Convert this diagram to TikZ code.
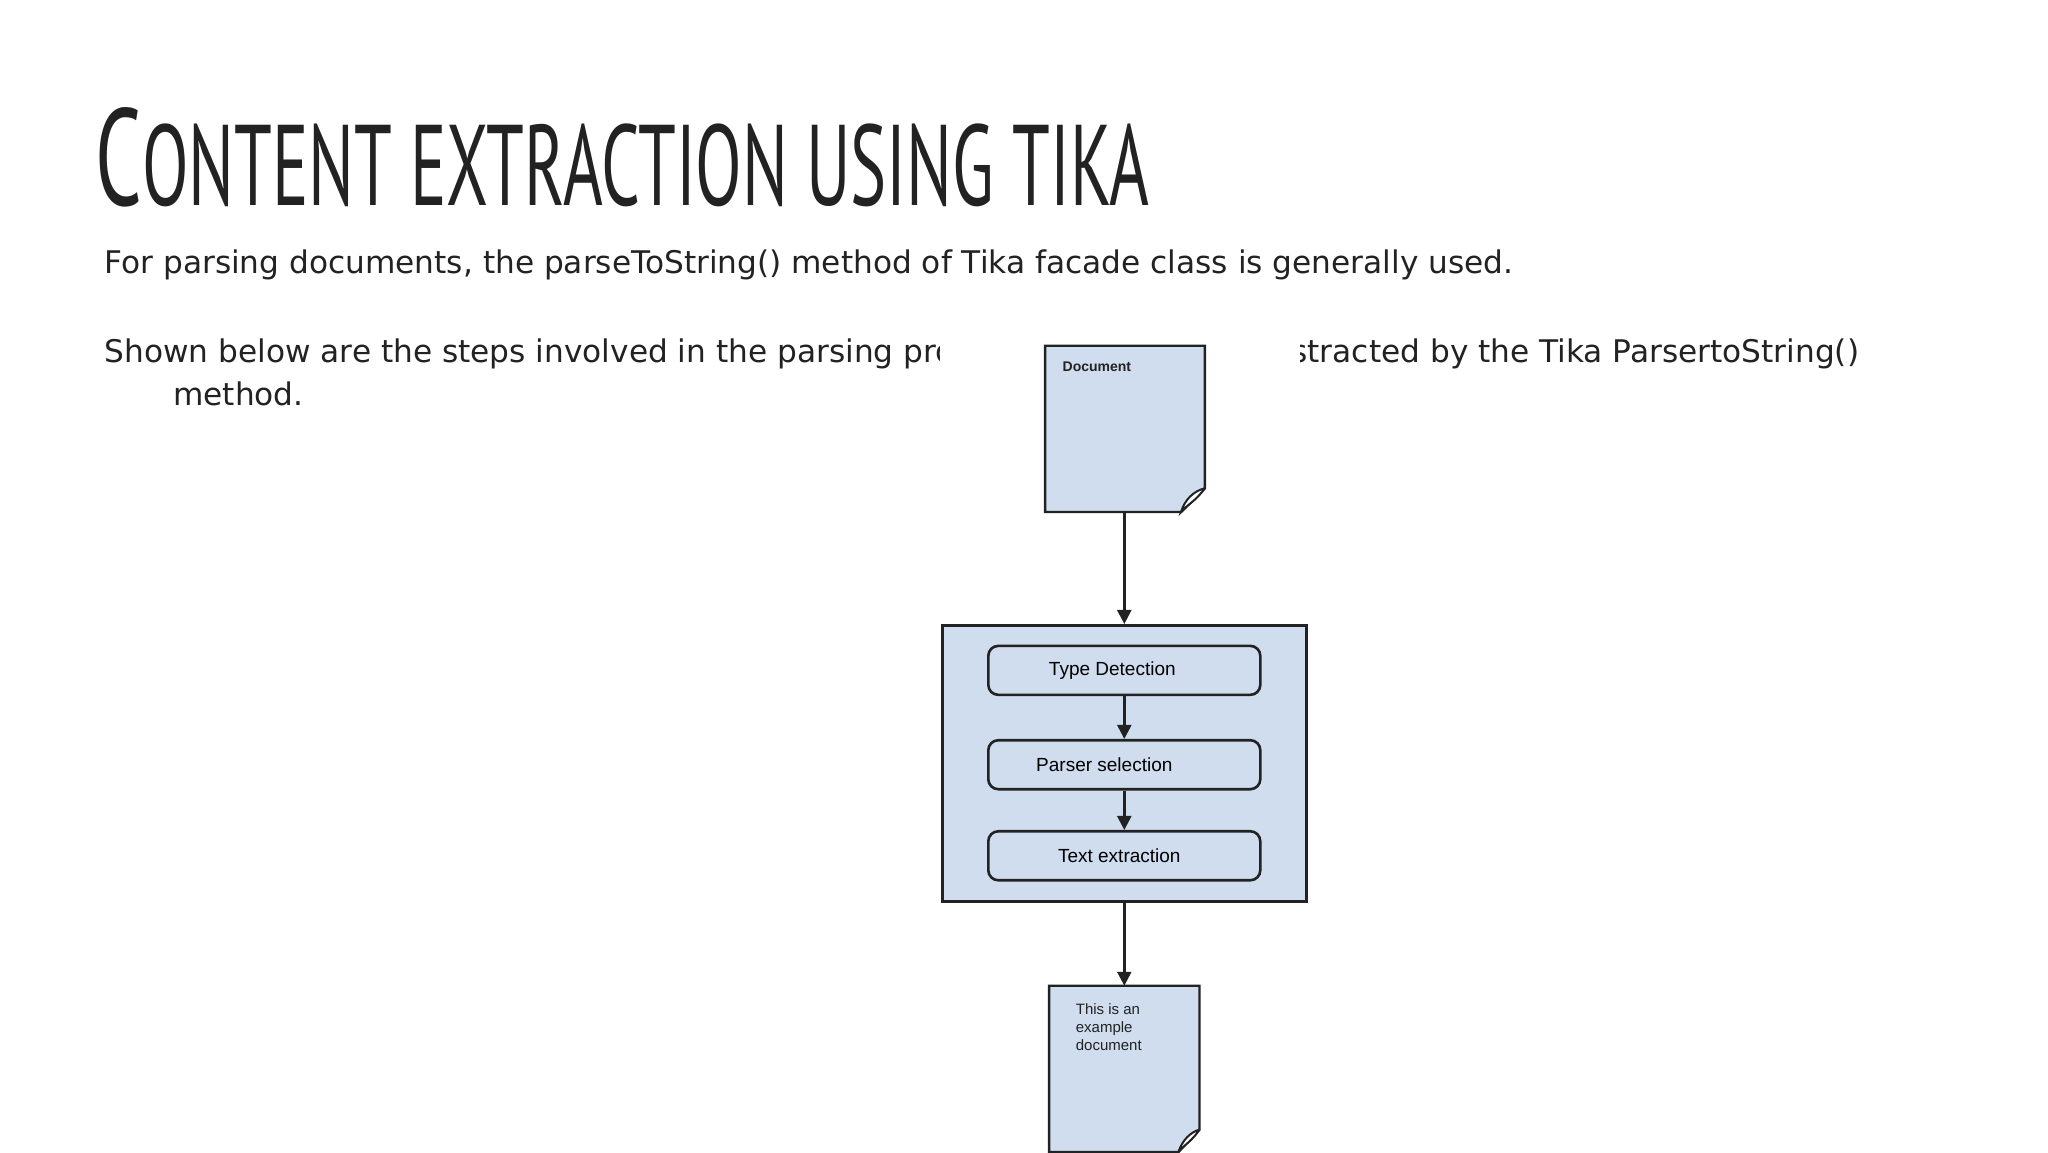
\documentclass[tikz,border=0pt]{standalone}
\usepackage{fontspec}
\setmainfont{DejaVu Sans}
\newfontfamily\ttl{PT Sans}
\newfontfamily\dia{Liberation Sans}
\usetikzlibrary{arrows.meta}
\definecolor{pale}{HTML}{CFDDEE}
\definecolor{ink}{HTML}{222222}
\begin{document}
\begin{tikzpicture}[x=0.6598pt,y=-0.6598pt,
  doc/.style={fill=pale,draw=ink,line width=1.2pt},
  stage/.style={draw=ink,fill=pale,line width=1.3pt,rounded corners=5pt,minimum width=136pt,minimum height=24.5pt,font=\dia\fontsize{9.5}{11}\selectfont},
  arr/.style={-{Triangle[length=7pt,width=7pt]},line width=1.2pt,ink},
  body/.style={anchor=base west,inner sep=0,font=\fontsize{15.6}{18}\selectfont,text=ink}]
\useasboundingbox (0,0) rectangle (1552,873);
\fill[white] (0,0) rectangle (1552,873);
\node[anchor=south west,inner sep=0,text=ink] (title) at (72,157) {\resizebox{527pt}{49pt}{\ttl{\fontsize{48}{48}\selectfont C}{\fontsize{40}{40}\selectfont ONTENT EXTRACTION USING TIKA}}};
\node[body] (l1) at (79,207) {For parsing documents, the parseToString() method of Tika facade class is generally used.};
\node[body] (l2) at (79,275) {Shown below are the steps involved in the parsing process and the ways abstracted by the Tika ParsertoString()};
\node[body] (l3) at (131,307) {method.};
\fill[white] (712,250) rectangle (985,873);
% document 1
\draw[doc] (792,262) -- (913,262) -- (913,370) -- (895,388) -- (792,388) -- cycle;
\draw[ink,line width=1pt,fill=white] (913,370) .. controls (905,372) and (898,378) .. (895,388) .. controls (900,382) and (906,380) .. (913,370);
\node[anchor=north west,inner sep=0,font=\dia\bfseries\fontsize{7}{8}\selectfont,text=ink] (d1) at (805,274) {Document};
\coordinate (d1b) at (852,388);
% outer box
\node[draw=ink,fill=pale,line width=1.4pt,minimum width=182pt,minimum height=138pt,inner sep=0] (proc) at (852,578.5) {};
\node[stage] (s1) at (852,508) {\hspace*{-12pt}Type Detection};
\node[stage] (s2) at (852,579.5) {\hspace*{-20pt}Parser selection};
\node[stage] (s3) at (852,648.5) {\hspace*{-5pt}Text extraction};
% document 2
\draw[doc] (795,747) -- (909,747) -- (909,856) -- (893,873) -- (795,873) -- cycle;
\draw[ink,line width=1pt,fill=white] (909,856) .. controls (902,858) and (896,864) .. (893,873) .. controls (898,867) and (903,865) .. (909,856);
\node[anchor=north west,inner sep=0,align=left,font=\dia\fontsize{7.5}{9}\selectfont,text=ink] (d2) at (815,760) {This is an\\example\\document};
\coordinate (d2t) at (852,747);
\draw[arr] (d1b) -- (proc.north);
\draw[arr] (s1) -- (s2);
\draw[arr] (s2) -- (s3);
\draw[arr] (proc.south) -- (d2t);
\end{tikzpicture}
\end{document}
